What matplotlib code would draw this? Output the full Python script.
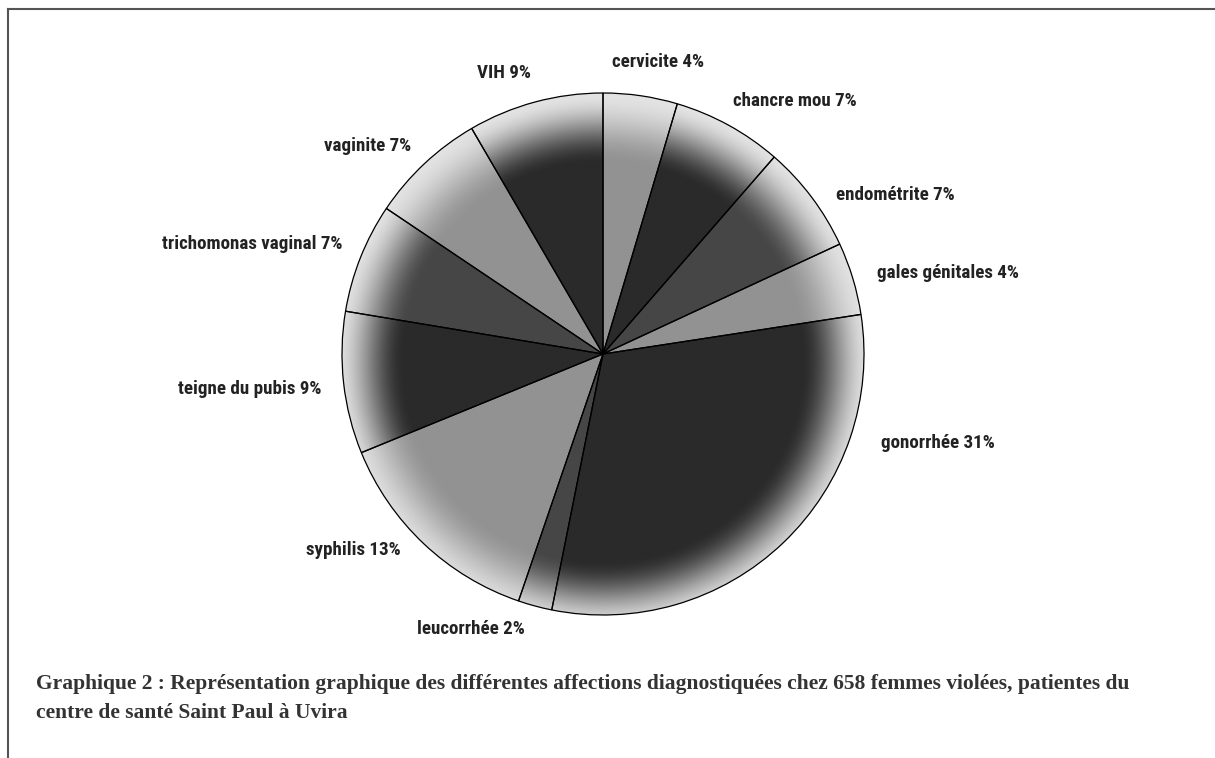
import numpy as np
import matplotlib
matplotlib.use("Agg")
import matplotlib.pyplot as plt
from matplotlib import font_manager as fm
from matplotlib.lines import Line2D

# data (clockwise from 12 o'clock)
categories = ["cervicite", "chancre mou", "endométrite", "gales génitales",
              "gonorrhée", "leucorrhée", "syphilis", "teigne du pubis",
              "trichomonas vaginal", "vaginite", "VIH"]
shares = [4.6, 6.8, 6.7, 4.5, 30.6, 2.1, 13.6, 8.8, 6.8, 7.2, 8.4]
label_pct = [4, 7, 7, 4, 31, 2, 13, 9, 7, 7, 9]

caption = ("Graphique 2 : Représentation graphique des différentes affections "
           "diagnostiquées chez 658 femmes violées, patientes du\n"
           "centre de santé Saint Paul à Uvira")

# style
base_greys = ["#929292", "#2a2a2a", "#464646"]
rim_grey = np.array([0.89, 0.89, 0.89])
# label anchor (x, y, ha) in pie-radius units
label_pos = [(0.034, 1.119, "left"), (0.498, 0.969, "left"), (0.893, 0.609, "left"),
             (1.050, 0.310, "left"), (1.065, -0.341, "left"), (-0.506, -1.054, "center"),
             (-0.774, -0.751, "right"), (-1.080, -0.134, "right"), (-1.000, 0.421, "right"),
             (-0.736, 0.797, "right"), (-0.276, 1.077, "right")]


def pick_narrow_font():
    names = {f.name for f in fm.fontManager.ttflist}
    for cand in ["Roboto Condensed", "Liberation Sans Narrow", "Open Sans Condensed",
                 "Noto Sans Condensed", "DejaVu Sans Condensed"]:
        if cand in names:
            return cand, "normal", 13.7
    for f in fm.fontManager.ttflist:
        if f.stretch in ("condensed", "semi-condensed") and f.name in (
                "DejaVu Sans", "Noto Sans", "Open Sans", "Roboto", "Inter"):
            return f.name, f.stretch, 13.7
    return "Lato", "normal", 12.5


lab_family, lab_stretch, lab_size = pick_narrow_font()

W, H = 1215, 758
cx, cy, R = 603, 354, 261

fig = plt.figure(figsize=(W / 100, H / 100), dpi=100)
ax = fig.add_axes([0, 0, 1, 1])

colors = [base_greys[i % 3] for i in range(len(shares))]
wedges, _ = ax.pie(shares, startangle=90, counterclock=False, radius=1,
                   colors=colors,
                   wedgeprops=dict(edgecolor="black", linewidth=0.9))

# radial shading: flat grey inside, fading to light near the rim
n = 700
g = np.linspace(-1, 1, n)
xx, yy = np.meshgrid(g, g)
rr = np.sqrt(xx ** 2 + (yy + 0.03) ** 2)
t = np.clip((rr - 0.76) / 0.27, 0, 1)
t = t * t * (3 - 2 * t)
for w, c in zip(wedges, colors):
    base = np.array(matplotlib.colors.to_rgb(c))
    img = base[None, None, :] * (1 - t[..., None]) + rim_grey[None, None, :] * t[..., None]
    im = ax.imshow(img, extent=(-1, 1, -1, 1), origin="lower",
                   interpolation="bilinear", zorder=2)
    im.set_clip_path(w)
    w.set_facecolor("none")
    w.set_zorder(3)

ax.set_xlim(-cx / R, (W - cx) / R)
ax.set_ylim(-(H - cy) / R, cy / R)
ax.set_aspect("auto")
ax.axis("off")

for cat, p, (lx, ly, ha) in zip(categories, label_pct, label_pos):
    ax.text(lx, ly, f"{cat} {p}%", ha=ha, va="center",
            family=[lab_family, "DejaVu Sans"], fontstretch=lab_stretch,
            fontsize=lab_size, fontweight="bold", color="#222222")

fig.text(36 / W, 1 - 674 / H, caption, ha="left", va="top",
         family=["Liberation Serif", "DejaVu Serif"], fontsize=15.5,
         fontweight="bold", color="#333333", linespacing=1.62)

# partial frame
fig.add_artist(Line2D([8 / W, 1], [1 - 9 / H, 1 - 9 / H], transform=fig.transFigure,
                      color="#555555", lw=1.5))
fig.add_artist(Line2D([8 / W, 8 / W], [0, 1 - 9 / H], transform=fig.transFigure,
                      color="#555555", lw=1.5))

fig.savefig("out.png", dpi=100, facecolor="white")
